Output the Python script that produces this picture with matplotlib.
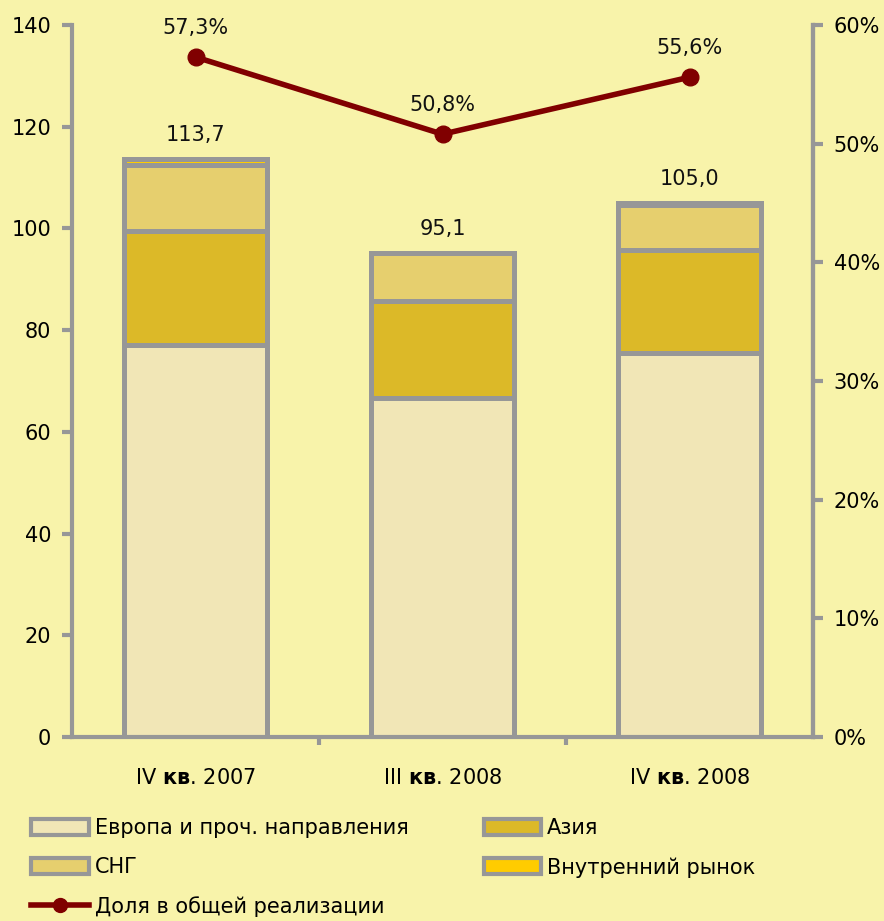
import matplotlib
matplotlib.use("Agg")
import matplotlib.pyplot as plt
import numpy as np
from matplotlib.lines import Line2D
from matplotlib.patches import Patch

plt.rcParams['font.family'] = ['DejaVu Sans']
plt.rcParams['mathtext.fontset'] = 'custom'
plt.rcParams['mathtext.bf'] = 'DejaVu Sans:bold'
plt.rcParams['mathtext.rm'] = 'DejaVu Sans'

categories = [r"IV $\mathbf{кв}$. 2007", r"III $\mathbf{кв}$. 2008", r"IV $\mathbf{кв}$. 2008"]
europe = [77.1, 66.6, 75.6]
asia = [22.3, 19.1, 20.2]
cis = [13.1, 9.4, 8.9]
domestic = [1.2, 0.0, 0.3]
totals = [113.7, 95.1, 105.0]
total_labels = ["113,7", "95,1", "105,0"]
share = [57.3, 50.8, 55.6]
share_labels = ["57,3%", "50,8%", "55,6%"]

series_names = ["Европа и проч. направления", "Азия", "СНГ", "Внутренний рынок"]
line_name = "Доля в общей реализации"

bg = "#F8F3AA"
edge = "#979797"
colors = ["#F1E6B6", "#DCB928", "#E6CF6E", "#FFCC00"]
line_color = "#800000"

fig = plt.figure(figsize=(8.84, 9.21), dpi=100, facecolor=bg)
ax = fig.add_axes([72/884, 1-737/921, (813-72)/884, (737-25)/921])
ax.set_facecolor(bg)

x = np.arange(len(categories))
width = 0.575
bottom = np.zeros(len(categories))
for vals, c in zip([europe, asia, cis, domestic], colors):
    ax.bar(x, vals, width, bottom=bottom, color=c, edgecolor=edge, linewidth=3.6, zorder=2)
    bottom += np.array(vals)

for xi, t, lab in zip(x, totals, total_labels):
    ax.annotate(lab, (xi, t), xytext=(0, 10), textcoords="offset points",
                ha="center", va="bottom", fontsize=15, color="#111111")

ax.set_xlim(-0.5, 2.5)
ax.set_ylim(0, 140)
ax.set_yticks(np.arange(0, 141, 20))
ax.set_xticks(x)
ax.set_xticklabels(categories, fontsize=15)
ax.set_xticks([0.5, 1.5], minor=True)
ax.tick_params(axis='x', which='major', length=0, pad=22)
ax.tick_params(axis='x', which='minor', length=6, width=3, color=edge, direction='out')
ax.tick_params(axis='y', length=7, width=3, color=edge, labelsize=15, pad=8)
ax.spines['top'].set_visible(False)
for s in ['left', 'bottom', 'right']:
    ax.spines[s].set_color(edge)
    ax.spines[s].set_linewidth(3)

ax2 = ax.twinx()
ax2.set_ylim(0, 60)
ax2.set_yticks(np.arange(0, 61, 10))
ax2.set_yticklabels([f"{v}%" for v in range(0, 61, 10)])
ax2.tick_params(axis='y', length=7, width=3, color=edge, labelsize=15, pad=8)
ax2.spines['top'].set_visible(False)
ax2.spines['left'].set_visible(False)
ax2.spines['bottom'].set_visible(False)
ax2.spines['right'].set_color(edge)
ax2.spines['right'].set_linewidth(3)
ax2.plot(x, share, color=line_color, linewidth=4, marker='o', markersize=12, zorder=3)
for xi, s, lab in zip(x, share, share_labels):
    ax2.annotate(lab, (xi, s), xytext=(0, 14), textcoords="offset points",
                 ha="center", va="bottom", fontsize=15, color="#111111")

handles = [
    Patch(facecolor=colors[0], edgecolor=edge, linewidth=3, label=series_names[0]),
    Patch(facecolor=colors[2], edgecolor=edge, linewidth=3, label=series_names[2]),
    Line2D([0], [0], color=line_color, linewidth=4, marker='o', markersize=10, label=line_name),
    Patch(facecolor=colors[1], edgecolor=edge, linewidth=3, label=series_names[1]),
    Patch(facecolor=colors[3], edgecolor=edge, linewidth=3, label=series_names[3]),
]
fig.legend(handles=handles, ncol=2, loc='upper left', bbox_to_anchor=(23/884, 1-810/921),
           frameon=False, fontsize=15, handlelength=2.75, handleheight=0.8,
           handletextpad=0.3, columnspacing=3.6, labelspacing=0.9, borderaxespad=0)

fig.savefig("out.png", dpi=100, facecolor=bg)
